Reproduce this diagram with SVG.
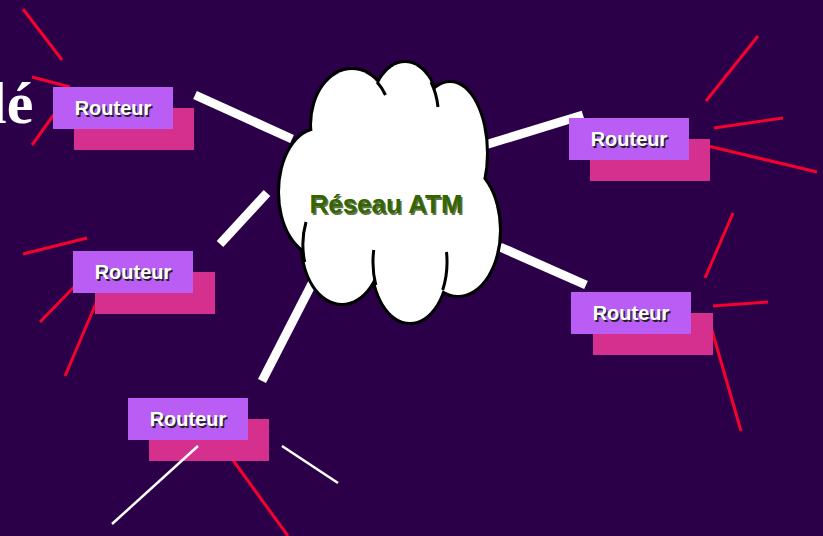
<svg xmlns="http://www.w3.org/2000/svg" width="823" height="536" viewBox="0 0 823 536">
<style>
.bg{fill:#2b0048}
.link{stroke:#ffffff;stroke-width:9;fill:none}
.red{stroke:#f5002f;stroke-width:3;fill:none}
.wht{stroke:#ffffff;stroke-width:2.5;fill:none}
.shadow{fill:#d6308f}
.box{fill:#b95df4}
.lbl{font-family:"Liberation Sans",Arial,sans-serif;font-size:20px;font-weight:bold;text-anchor:middle}
.lbl-s{fill:#222222}
.lbl-f{fill:#ffffff}
.cl-o{fill:#000000;stroke:#000000;stroke-width:6}
.cl-f{fill:#ffffff}
.tick{fill:none;stroke:#000000;stroke-width:3}
</style>
<rect class="bg" x="0" y="0" width="823" height="536"/>
<text x="-10" y="123" font-family="'Liberation Serif','Times New Roman',serif" font-size="60" font-weight="bold" fill="#ffffff">lé</text>

<g id="decor">
<line class="red" x1="23" y1="9" x2="62" y2="60"/>
<line class="red" x1="32" y1="77" x2="70" y2="87"/>
<line class="red" x1="32" y1="145" x2="55" y2="113"/>
<line class="red" x1="706" y1="101" x2="758" y2="36"/>
<line class="red" x1="714" y1="128" x2="783" y2="118"/>
<line class="red" x1="708" y1="146" x2="817" y2="172"/>
<line class="red" x1="705" y1="278" x2="733" y2="213"/>
<line class="red" x1="713" y1="306" x2="768" y2="302"/>
<line class="red" x1="711" y1="327" x2="741" y2="431"/>
<line class="red" x1="23" y1="254" x2="87" y2="238"/>
<line class="red" x1="40" y1="322" x2="75" y2="286"/>
<line class="red" x1="65" y1="376" x2="97" y2="301"/>
<line class="red" x1="230" y1="456" x2="288" y2="536"/>
<line class="wht" x1="282" y1="446" x2="338" y2="483"/>
</g>

<g id="connectors">
<line class="link" x1="195" y1="95" x2="292" y2="139"/>
<line class="link" x1="485" y1="145" x2="583" y2="115"/>
<line class="link" x1="220" y1="244" x2="267" y2="193"/>
<line class="link" x1="500" y1="247" x2="586" y2="285"/>
<line class="link" x1="262" y1="381" x2="318" y2="272"/>
</g>

<g id="cloud">
<g class="cl-o">
<ellipse cx="352" cy="125" rx="40" ry="55"/>
<ellipse cx="405" cy="118" rx="34" ry="55"/>
<ellipse cx="450" cy="153" rx="36" ry="70"/>
<ellipse cx="458" cy="230" rx="41" ry="65"/>
<ellipse cx="410" cy="262" rx="37" ry="60"/>
<ellipse cx="342" cy="245" rx="39" ry="58"/>
<ellipse cx="318" cy="192" rx="38" ry="62"/>
</g>
<g class="cl-f">
<ellipse cx="352" cy="125" rx="40" ry="55"/>
<ellipse cx="405" cy="118" rx="34" ry="55"/>
<ellipse cx="450" cy="153" rx="36" ry="70"/>
<ellipse cx="458" cy="230" rx="41" ry="65"/>
<ellipse cx="410" cy="262" rx="37" ry="60"/>
<ellipse cx="342" cy="245" rx="39" ry="58"/>
<ellipse cx="318" cy="192" rx="38" ry="62"/>
<ellipse cx="392" cy="190" rx="85" ry="90"/>
</g>
<path class="tick" d="M377,82 A40,55 0 0 1 385.5,95"/>
<path class="tick" d="M431,82 A34,55 0 0 1 438,107"/>
<path class="tick" d="M306,222 A39,58 0 0 0 304.7,262"/>
<path class="tick" d="M373.75,250 A37,60 0 0 0 375.8,285"/>
<path class="tick" d="M446.5,252 A37,60 0 0 1 442.7,290"/>
<text x="387.5" y="214.5" font-family="'Liberation Sans',Arial,sans-serif" font-size="26" font-weight="bold" text-anchor="middle" fill="#1f3a00" opacity="0.7">Réseau ATM</text>
<text x="386" y="213" font-family="'Liberation Sans',Arial,sans-serif" font-size="26" font-weight="bold" text-anchor="middle" fill="#336600">Réseau ATM</text>
</g>

<g id="router1">
<rect class="shadow" x="74" y="108" width="120" height="42"/>
<rect class="box" x="53" y="87" width="120" height="42"/>
<text class="lbl lbl-s" x="114.5" y="116.5">Routeur</text>
<text class="lbl lbl-f" x="113" y="115">Routeur</text>
</g>
<g id="router2">
<rect class="shadow" x="590" y="139" width="120" height="42"/>
<rect class="box" x="569" y="118" width="120" height="42"/>
<text class="lbl lbl-s" x="630.5" y="147.5">Routeur</text>
<text class="lbl lbl-f" x="629" y="146">Routeur</text>
</g>
<g id="router3">
<rect class="shadow" x="95" y="272" width="120" height="42"/>
<rect class="box" x="73" y="251" width="120" height="42"/>
<text class="lbl lbl-s" x="134.5" y="280.5">Routeur</text>
<text class="lbl lbl-f" x="133" y="279">Routeur</text>
</g>
<g id="router4">
<rect class="shadow" x="593" y="313" width="120" height="42"/>
<rect class="box" x="571" y="292" width="120" height="42"/>
<text class="lbl lbl-s" x="632.5" y="321.5">Routeur</text>
<text class="lbl lbl-f" x="631" y="320">Routeur</text>
</g>
<g id="router5">
<rect class="shadow" x="149" y="419" width="120" height="42"/>
<rect class="box" x="128" y="398" width="120" height="42"/>
<text class="lbl lbl-s" x="189.5" y="427.5">Routeur</text>
<text class="lbl lbl-f" x="188" y="426">Routeur</text>
</g>
<g id="decor-top">
<line class="wht" x1="112" y1="524" x2="198" y2="446"/>
</g>
</svg>
